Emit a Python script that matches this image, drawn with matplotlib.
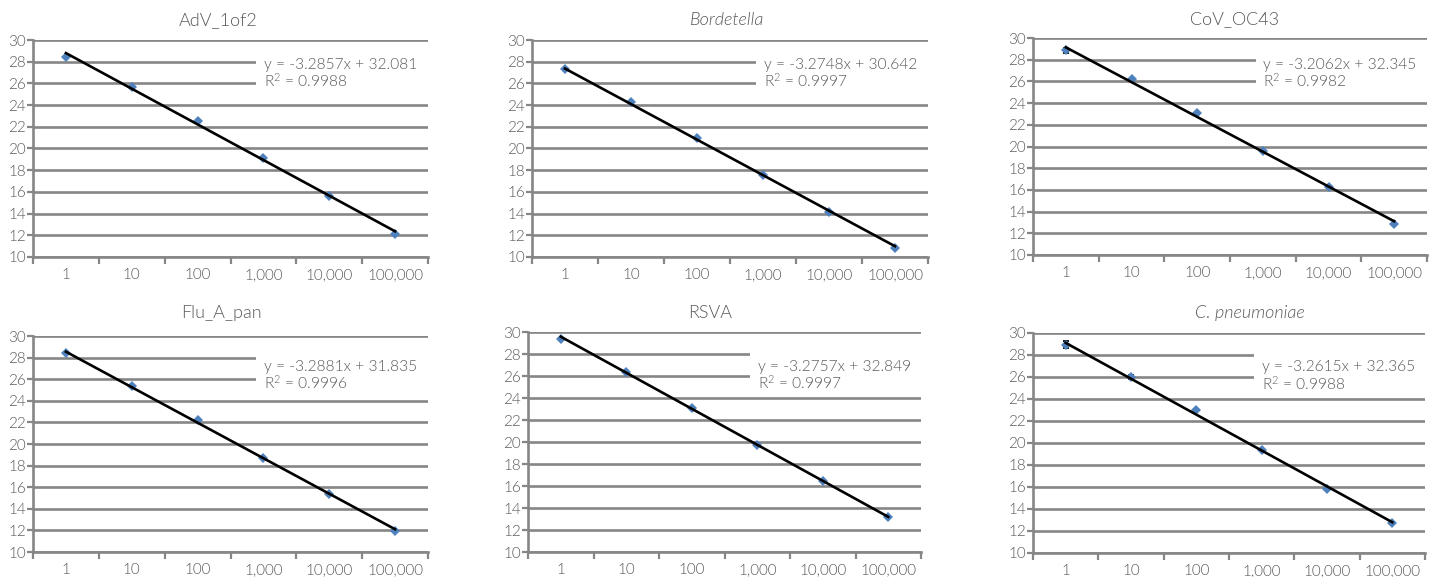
import matplotlib
matplotlib.use("Agg")
import matplotlib.pyplot as plt
from matplotlib.patches import Rectangle
import numpy as np

plt.rcParams['font.family'] = ['Lato', 'DejaVu Sans']
plt.rcParams['font.weight'] = 300
plt.rcParams['mathtext.default'] = 'regular'

# ---- data ----
categories = ["1", "10", "100", "1,000", "10,000", "100,000"]
titles = ["AdV_1of2", "Bordetella", "CoV_OC43", "Flu_A_pan", "RSVA", "C. pneumoniae"]
title_italic = [False, True, False, False, False, True]

adv = [28.47, 25.64, 22.58, 19.11, 15.58, 12.12]
bordetella = [27.33, 24.25, 21.0, 17.6, 14.12, 10.87]
cov_oc43 = [28.85, 26.2, 23.08, 19.58, 16.3, 12.9]
flu_a = [28.42, 25.35, 22.19, 18.74, 15.36, 11.98]
rsva = [29.39, 26.34, 23.11, 19.76, 16.43, 13.22]
cpneu = [28.95, 26.0, 22.97, 19.35, 15.78, 12.72]

adv_err = [0, 0, 0, 0, 0, 0]
bordetella_err = [0, 0, 0, 0, 0, 0]
cov_oc43_err = [0.25, 0.1, 0, 0, 0, 0]
flu_a_err = [0.1, 0, 0, 0, 0, 0]
rsva_err = [0, 0, 0, 0, 0, 0]
cpneu_err = [0.35, 0.15, 0, 0, 0, 0.1]

slopes = [-3.2857, -3.2748, -3.2062, -3.2881, -3.2757, -3.2615]
intercepts = [32.081, 30.642, 32.345, 31.835, 32.849, 32.365]
r2 = ["0.9988", "0.9997", "0.9982", "0.9996", "0.9997", "0.9988"]

series = [adv, bordetella, cov_oc43, flu_a, rsva, cpneu]
errors = [adv_err, bordetella_err, cov_oc43_err, flu_a_err, rsva_err, cpneu_err]

# ---- layout (pixels) ----
W, H = 1435, 577
boxes = [(33, 428, 40, 257), (532, 928, 40, 257), (1033, 1427, 38, 255),
         (33, 428, 336, 552), (528, 921, 332, 552), (1033, 1425, 333, 553)]
title_pos = [(218, 20), (727, 20), (1235, 19), (221, 313), (710, 313), (1250, 313)]
eq_y = [28.35, 28.35, 28.2, 27.75, 27.5, 27.5]

fig = plt.figure(figsize=(W / 100, H / 100), dpi=100)
grid_c = "#868686"
text_c = "#595959"

for i in range(6):
    l, r, t, b = boxes[i]
    ax = fig.add_axes([l / W, 1 - b / H, (r - l) / W, (b - t) / H])
    x = np.arange(1, len(categories) + 1)
    ax.set_xlim(0.5, 6.5)
    ax.set_ylim(10, 30)
    ax.set_yticks(np.arange(10, 31, 2))
    ax.yaxis.grid(True, color=grid_c, lw=1.9, zorder=0)
    ax.set_axisbelow(True)
    for s in ["top", "right"]:
        ax.spines[s].set_visible(False)
    for s in ["left", "bottom"]:
        ax.spines[s].set_color(grid_c)
        ax.spines[s].set_linewidth(1.9)
    ax.set_xticks(np.arange(0.5, 6.6, 1.0))
    ax.set_xticklabels([])
    ax.set_xticks(x, minor=True)
    ax.set_xticklabels(categories, minor=True)
    ax.tick_params(axis='x', which='major', length=5, width=1.6, color=grid_c)
    ax.tick_params(axis='x', which='minor', length=0, pad=8, labelsize=11, labelcolor=text_c)
    ax.tick_params(axis='y', length=4, width=1.6, color=grid_c, labelsize=11,
                   labelcolor=text_c, pad=1)

    # white box behind equation (covers gridlines)
    ax.add_patch(Rectangle((0.565, 25.2), 0.5, 3.6,
                           transform=ax.get_yaxis_transform(),
                           facecolor="white", edgecolor="none", zorder=1, clip_on=False))
    yv = series[i]
    ax.errorbar(x, yv, yerr=errors[i], fmt='none', ecolor='black', elinewidth=1.3,
                capsize=2.5, capthick=1.3, zorder=3)
    ax.plot(x, yv, linestyle='none', marker='D', ms=5.5, color="#4F81BD",
            markeredgewidth=0, zorder=4)
    ax.plot(x, slopes[i] * x + intercepts[i], color='black', lw=1.9, zorder=5)

    eq = "y = %.4fx + %.3f\n$R^2$ = %s" % (slopes[i], intercepts[i], r2[i])
    ax.text(0.585, eq_y[i], eq, transform=ax.get_yaxis_transform(), ha='left', va='top',
            fontsize=11.2, color=text_c, zorder=6, linespacing=1.0)

    tx, ty = title_pos[i]
    fig.text(tx / W, 1 - ty / H, titles[i], ha='center', va='center', fontsize=13,
             color=text_c, style='italic' if title_italic[i] else 'normal')

fig.savefig("out.png", dpi=100)
